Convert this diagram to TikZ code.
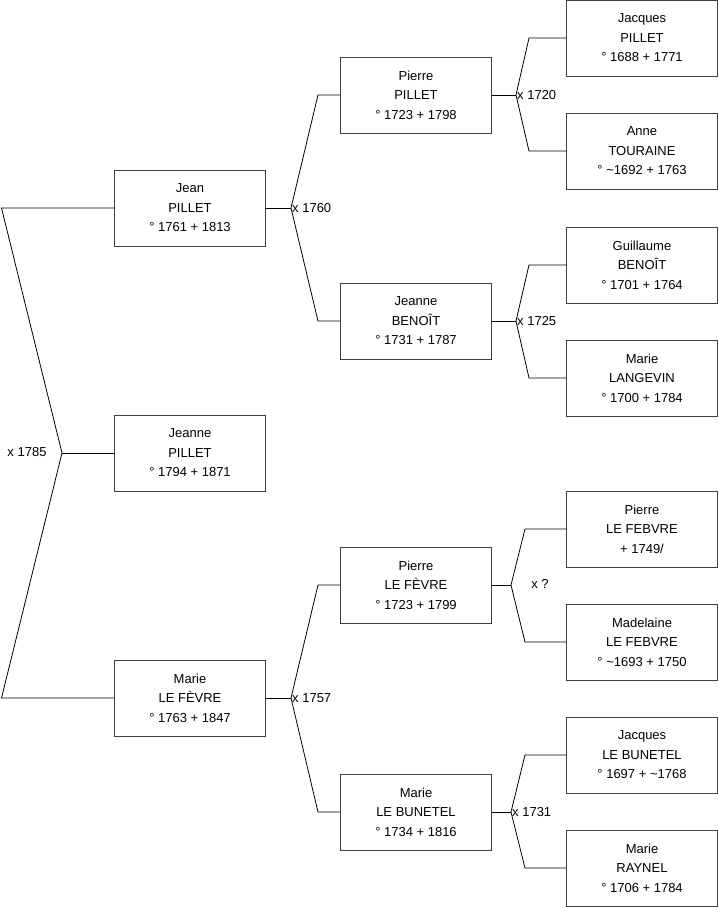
\documentclass[tikz,border=0pt]{standalone}
\usepackage{fontspec}
\setmainfont{Liberation Sans}
\begin{document}
\begin{tikzpicture}[x=1pt,y=-1pt,
  person/.style={draw=black!75, line width=0.8pt, minimum width=151pt, minimum height=76pt,
    align=center, font=\fontsize{13}{19.5}\selectfont, inner sep=0pt, fill=white},
  conn/.style={draw=black, line width=0.8pt},
  lbl/.style={font=\fontsize{13}{15}\selectfont, inner sep=1pt}]
\useasboundingbox (0,0) rectangle (719,908);
% column 1
\node[person] (jean) at (190,208) {Jean\\PILLET\\° 1761 + 1813};
\node[person] (jeanne) at (190,453) {Jeanne\\PILLET\\° 1794 + 1871};
\node[person] (marie) at (190,698) {Marie\\LE FÈVRE\\° 1763 + 1847};
% column 2
\node[person] (pierreP) at (416,95) {Pierre\\PILLET\\° 1723 + 1798};
\node[person] (jeanneB) at (416,321) {Jeanne\\BENOÎT\\° 1731 + 1787};
\node[person] (pierreF) at (416,585) {Pierre\\LE FÈVRE\\° 1723 + 1799};
\node[person] (marieB) at (416,812) {Marie\\LE BUNETEL\\° 1734 + 1816};
% column 3
\node[person] (jacquesP) at (642,38) {Jacques\\PILLET\\° 1688 + 1771};
\node[person] (anneT) at (642,151) {Anne\\TOURAINE\\° \textasciitilde1692 + 1763};
\node[person] (guillaumeB) at (642,265) {Guillaume\\BENOÎT\\° 1701 + 1764};
\node[person] (marieL) at (642,378) {Marie\\LANGEVIN\\° 1700 + 1784};
\node[person] (pierreLF) at (642,529) {Pierre\\LE FEBVRE\\+ 1749/};
\node[person] (madelaine) at (642,642) {Madelaine\\LE FEBVRE\\° \textasciitilde1693 + 1750};
\node[person] (jacquesB) at (642,755) {Jacques\\LE BUNETEL\\° 1697 + \textasciitilde1768};
\node[person] (marieR) at (642,868) {Marie\\RAYNEL\\° 1706 + 1784};
% left connector
\coordinate (a0) at (1.5,208);
\coordinate (b0) at (1.5,698);
\coordinate (v0) at (62,453);
\draw[conn] (jean.west) -- (a0) -- (v0) -- (b0) -- (marie.west);
\draw[conn] (v0) -- (jeanne.west);
\node[lbl] (l0) at (27,452) {x 1785};
% Jean -> parents
\coordinate (v1) at (291,208);
\coordinate (t1) at (318,95);
\coordinate (u1) at (318,321);
\draw[conn] (jean.east) -- (v1);
\draw[conn] (pierreP.west) -- (t1) -- (v1) -- (u1) -- (jeanneB.west);
\node[lbl, anchor=west] (l1) at (v1) {x 1760};
% Marie -> parents
\coordinate (v2) at (291,698);
\coordinate (t2) at (318,585);
\coordinate (u2) at (318,812);
\draw[conn] (marie.east) -- (v2);
\draw[conn] (pierreF.west) -- (t2) -- (v2) -- (u2) -- (marieB.west);
\node[lbl, anchor=west] (l2) at (v2) {x 1757};
% Pierre PILLET -> parents
\coordinate (v3) at (516,95);
\coordinate (t3) at (529,38);
\coordinate (u3) at (529,151);
\draw[conn] (pierreP.east) -- (v3);
\draw[conn] (jacquesP.west) -- (t3) -- (v3) -- (u3) -- (anneT.west);
\node[lbl, anchor=west] (l3) at (v3) {x 1720};
% Jeanne BENOIT -> parents
\coordinate (v4) at (516,321);
\coordinate (t4) at (529,265);
\coordinate (u4) at (529,378);
\draw[conn] (jeanneB.east) -- (v4);
\draw[conn] (guillaumeB.west) -- (t4) -- (v4) -- (u4) -- (marieL.west);
\node[lbl, anchor=west] (l4) at (v4) {x 1725};
% Pierre LE FEVRE -> parents
\coordinate (v5) at (511,585);
\coordinate (t5) at (525,529);
\coordinate (u5) at (525,642);
\draw[conn] (pierreF.east) -- (v5);
\draw[conn] (pierreLF.west) -- (t5) -- (v5) -- (u5) -- (madelaine.west);
\node[lbl] (l5) at (540,584) {x ?};
% Marie LE BUNETEL -> parents
\coordinate (v6) at (511,812);
\coordinate (t6) at (525,755);
\coordinate (u6) at (525,868);
\draw[conn] (marieB.east) -- (v6);
\draw[conn] (jacquesB.west) -- (t6) -- (v6) -- (u6) -- (marieR.west);
\node[lbl, anchor=west] (l6) at (v6) {x 1731};
\end{tikzpicture}
\end{document}
